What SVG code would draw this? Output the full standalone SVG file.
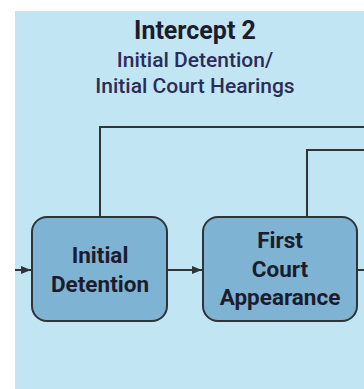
<svg xmlns="http://www.w3.org/2000/svg" width="364" height="389" viewBox="0 0 364 389">
<defs>
<style>
.title{font-family:Roboto,"Liberation Sans",sans-serif;font-weight:bold;font-size:25px;fill:#1c1c2c;text-anchor:middle}
.sub{font-family:Roboto,"Liberation Sans",sans-serif;font-weight:500;font-size:21px;fill:#2c2c58;text-anchor:middle}
.box{fill:#7eb3d4;stroke:#2f3436;stroke-width:2}
.lbl{font-family:Roboto,"Liberation Sans",sans-serif;font-weight:bold;font-size:22.5px;fill:#1c1c2c;text-anchor:middle}
.ln{fill:none;stroke:#2f3436;stroke-width:2}
</style>
<marker id="ah" viewBox="0 0 10 10" refX="10" refY="5" markerWidth="5" markerHeight="5" orient="auto" markerUnits="strokeWidth">
<path d="M0,1 L10,5 L0,9 z" fill="#2f3436"/>
</marker>
</defs>
<rect x="0" y="0" width="364" height="389" fill="#ffffff"/>
<rect x="15" y="11" width="349" height="378" fill="#c2e5f4"/>
<g id="header">
<text class="title" x="195" y="39">Intercept 2</text>
<text class="sub" x="195" y="67">Initial Detention/</text>
<text class="sub" x="195" y="93">Initial Court Hearings</text>
</g>
<g id="connectors">
<path class="ln" d="M100,217 V127 H364"/>
<path class="ln" d="M307,217 V150 H364"/>
<path class="ln" d="M15,270 H31" marker-end="url(#ah)"/>
<path class="ln" d="M167,270 H202" marker-end="url(#ah)"/>
<path class="ln" d="M357,270 H364"/>
</g>
<g id="initial-detention">
<rect class="box" x="32" y="217" width="135" height="104" rx="15"/>
<text class="lbl" x="100" y="263">Initial</text>
<text class="lbl" x="100" y="292">Detention</text>
</g>
<g id="first-court-appearance">
<rect class="box" x="203" y="217" width="154" height="104" rx="15"/>
<text class="lbl" x="280" y="248">First</text>
<text class="lbl" x="280" y="277">Court</text>
<text class="lbl" x="280" y="305">Appearance</text>
</g>
</svg>
